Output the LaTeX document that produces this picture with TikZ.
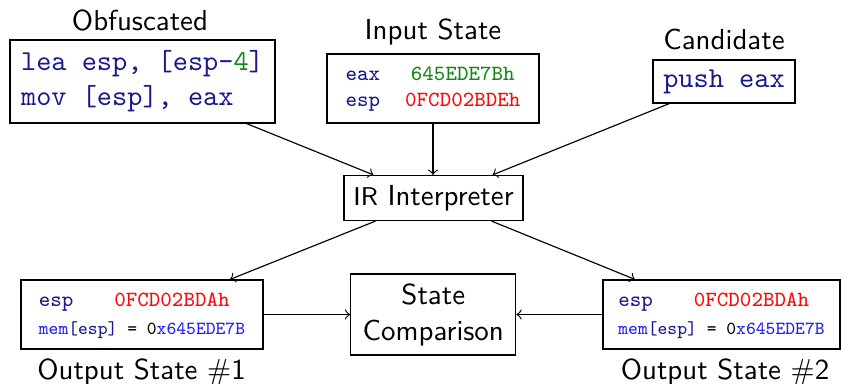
\documentclass[tikz,border=0pt]{standalone}

% syntax colours for the assembly snippets
\definecolor{regnavy}{RGB}{25,25,140}
\definecolor{numgreen}{RGB}{20,135,20}
\definecolor{valred}{RGB}{250,10,10}
\definecolor{memblue}{RGB}{30,30,250}
\newcommand\rg[1]{\textcolor{regnavy}{#1}}
% drawing unit
\newdimen\px \px=0.346pt

\begin{document}
\begin{tikzpicture}[x=\px,y=-\px,
  box/.style={draw, line width=0.4pt, inner sep=0pt},
  lbl/.style={anchor=base, font=\sffamily\fontsize{10}{12}\selectfont},
  link/.style={line width=0.4pt, ->},
  bigcode/.style={font=\ttfamily\fontsize{10}{12.1}\selectfont},
  smallcode/.style={font=\ttfamily\fontsize{7.5}{9}\selectfont},
  outcode/.style={font=\ttfamily\fontsize{7.5}{9.7}\selectfont}]
\useasboundingbox (0,0) rectangle (843,383);

% top row: inputs
\node[box, bigcode, minimum width={265*\px}, minimum height={83*\px}, align=left] (obf) at (142.5,81.5)
  {\rg{lea esp, [esp-}\textcolor{numgreen}{4}\rg{]}\\\rg{mov [esp], eax}};
\node[box, smallcode, minimum width={212*\px}, minimum height={69*\px}] (inp) at (433,88.5)
  {\begin{tabular}{@{}l@{\hspace{8.65pt}}c@{}}
    \rg{eax} & \textcolor{numgreen}{645EDE7Bh}\\
    \rg{esp} & \textcolor{valred}{0FCD02BDEh}
  \end{tabular}};
\node[box, bigcode, minimum width={142*\px}, minimum height={43*\px}] (cand) at (724,81.5) {\rg{push eax}};

\node[lbl] (lobf) at (140,30) {Obfuscated};
\node[lbl] (linp) at (433,39.5) {Input State};
\node[lbl] (lcand) at (724,49) {Candidate};

% interpreter
\node[box, font=\sffamily\fontsize{10}{12}\selectfont, minimum width={179*\px}, minimum height={45*\px}] (ir) at (433.5,198)
  {{\fontsize{8.9}{10.5}\selectfont IR} Interpreter};

% outputs and comparison
\node[box, outcode, minimum width={242*\px}, minimum height={69*\px}] (out1) at (142,314.5)
  {\begin{tabular}{@{}l@{\hspace{14.2pt}}l@{}}
    \rg{esp} & \textcolor{valred}{0FCD02BDAh}\\
    \multicolumn{2}{@{}l@{}}{\fontsize{6.4}{7.6}\selectfont\textcolor{memblue}{mem}\rg{[esp]} = 0\textcolor{memblue}{x645EDE7B}}
  \end{tabular}};
\node[box, outcode, minimum width={237*\px}, minimum height={69*\px}] (out2) at (721.5,314.5)
  {\begin{tabular}{@{}l@{\hspace{14.2pt}}l@{}}
    \rg{esp} & \textcolor{valred}{0FCD02BDAh}\\
    \multicolumn{2}{@{}l@{}}{\fontsize{6.4}{7.6}\selectfont\textcolor{memblue}{mem}\rg{[esp]} = 0\textcolor{memblue}{x645EDE7B}}
  \end{tabular}};
\node[box, font=\sffamily\fontsize{10}{12.46}\selectfont, align=center, minimum width={165*\px}, minimum height={81*\px}] (sc) at (433.3,314.5)
  {State\\Comparison};

\node[lbl] (lout1) at (141.5,379) {Output State \#1};
\node[lbl] (lout2) at (725,379) {Output State \#2};

% connectors
\draw[link] (obf) -- ([xshift={-60*\px}]ir.north);
\draw[link] (inp.south) -- (inp.south |- ir.north);
\draw[link] (cand) -- ([xshift={59*\px}]ir.north);
\draw[link] ([xshift={-58*\px}]ir.south) -- ([xshift={88*\px}]out1.north);
\draw[link] ([xshift={58*\px}]ir.south) -- ([xshift={-86.5*\px}]out2.north);
\draw[link] (out1) -- (sc);
\draw[link] (out2) -- (sc);
\end{tikzpicture}
\end{document}
